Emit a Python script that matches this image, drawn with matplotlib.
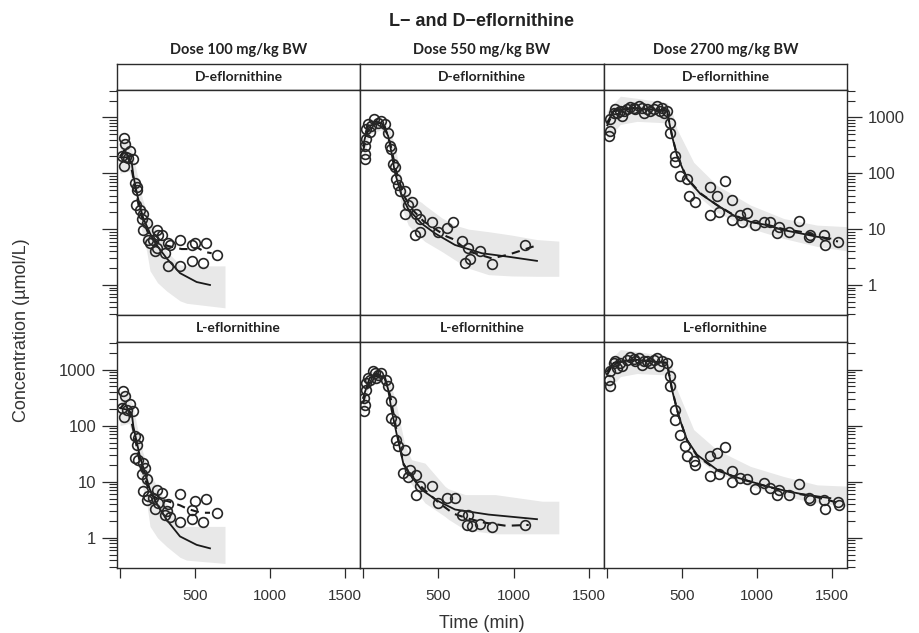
import matplotlib.pyplot as plt
from matplotlib.ticker import FixedLocator, LogLocator, NullFormatter

DOSES = ["Dose 100 mg/kg BW", "Dose 550 mg/kg BW", "Dose 2700 mg/kg BW"]
FORMS = ["D-eflornithine", "L-eflornithine"]
Y_TICKS = [1, 10, 100, 1000]
X_TICKS = [0, 500, 1000, 1500]
X_TICK_LABELS = ["", "500", "1000", "1500"]

# ---- D-eflornithine, 100 mg/kg ----
D100_OBS_T = [27, 33, 67, 11, 40, 89, 27, 56, 100, 111, 116, 107, 133, 156, 144, 178, 156, 244, 256,
              278, 189, 222, 200, 244, 233, 300, 322, 333, 400, 478, 500, 573, 649, 478, 551, 322, 400]
D100_OBS_C = [420, 333, 253, 201, 193, 180, 134, 190, 67, 57, 51, 27, 22, 19, 15.5, 13, 9.6, 9.6, 7.8,
              7.9, 6.4, 6.4, 5.6, 4.5, 4.0, 3.7, 5.6, 5.2, 6.4, 5.2, 5.6, 5.6, 3.5, 2.7, 2.5, 2.2, 2.15]
D100_PRED_T = [0, 44, 78, 89, 107, 129, 156, 200, 244, 311, 400, 511, 600]
D100_PRED_C = [193, 193, 157, 91, 52, 28, 15.5, 8.4, 5.2, 3.0, 1.63, 1.13, 1.0]
D100_MED_T = [0, 30, 60, 100, 130, 160, 200, 250, 320, 411, 456, 520, 567, 611]
D100_MED_C = [200, 260, 200, 60, 22, 13, 7, 5.8, 5, 4.4, 4.4, 4.6, 3.9, 3.7]
D100_BAND_T = [0, 60, 90, 120, 150, 178, 200, 250, 311, 400, 444, 700]
D100_BAND_LO = [100, 110, 60, 20, 8, 4, 1.8, 1.1, 0.78, 0.52, 0.47, 0.39]
D100_BAND_HI = [420, 380, 200, 80, 35, 20, 15, 9, 4, 2.3, 2.2, 2.2]

# ---- L-eflornithine, 100 mg/kg ----
L100_OBS_T = [22, 33, 67, 11, 44, 89, 27, 100, 122, 111, 100, 122, 156, 167, 144, 178, 156, 189, 178,
              222, 244, 278, 256, 233, 322, 311, 300, 333, 400, 500, 573, 649, 478, 478, 400, 551]
L100_OBS_C = [410, 334, 247, 207, 193, 180, 143, 65, 60, 46, 26.5, 24.7, 21.5, 17.5, 13.9, 11.3, 6.9,
              5.5, 4.8, 5.1, 7.2, 6.3, 4.2, 3.25, 4.0, 2.95, 2.6, 2.4, 6.1, 4.5, 4.9, 2.75, 3.1, 2.2,
              1.9, 1.9]
L100_PRED_T = [0, 44, 78, 89, 111, 133, 167, 200, 256, 311, 400, 511, 600]
L100_PRED_C = [207, 193, 168, 97, 52, 28, 14.3, 7.2, 3.6, 2.1, 1.06, 0.75, 0.65]
L100_MED_T = [0, 30, 60, 100, 130, 160, 200, 250, 320, 400, 449, 500, 544, 600]
L100_MED_C = [200, 250, 190, 60, 24, 13, 6, 5, 4.5, 3.8, 3.3, 3.0, 2.8, 2.8]
L100_BAND_T = [0, 60, 90, 120, 150, 178, 200, 250, 311, 400, 444, 700]
L100_BAND_LO = [100, 110, 60, 20, 8, 4.2, 1.6, 1.0, 0.7, 0.45, 0.4, 0.35]
L100_BAND_HI = [420, 380, 200, 80, 35, 20, 14, 8, 4, 1.6, 1.6, 1.6]

# ---- D-eflornithine, 550 mg/kg ----
D550_OBS_T = [11, 11, 11, 22, 22, 33, 44, 55, 73, 100, 122, 144, 167, 178, 189, 200, 211, 222, 233,
              244, 278, 322, 300, 278, 355, 344, 378, 378, 455, 500, 555, 600, 655, 700, 778, 711,
              678, 855, 1078]
D550_OBS_C = [180, 221, 312, 407, 615, 754, 556, 703, 950, 805, 863, 754, 535, 312, 270, 147, 128, 80,
              61, 49, 49, 30, 26.7, 19, 19, 7.8, 9.0, 15.5, 13.2, 9.0, 10.3, 13.2, 6.1, 4.5, 4.0,
              2.9, 2.5, 2.4, 5.2]
D550_PRED_T = [0, 33, 122, 167, 189, 211, 256, 300, 389, 478, 611, 789, 967, 1155]
D550_PRED_C = [312, 703, 805, 467, 235, 105, 40, 23, 12.6, 8.4, 5.2, 3.7, 3.2, 2.7]
D550_MED_T = [0, 30, 80, 140, 180, 220, 270, 330, 400, 480, 555, 600, 700, 855, 967, 1033, 1122, 1162]
D550_MED_C = [250, 550, 850, 750, 350, 110, 40, 22, 14, 10, 7.4, 6.6, 4.0, 3.0, 3.5, 4.0, 4.8, 5.2]
D550_BAND_T = [0, 40, 120, 180, 220, 256, 300, 333, 389, 411, 522, 611, 700, 833, 989, 1155, 1300]
D550_BAND_LO = [150, 500, 600, 300, 100, 25, 11.8, 9.5, 6.8, 6.0, 4.0, 2.8, 2.0, 1.53, 1.45, 1.43, 1.43]
D550_BAND_HI = [400, 900, 1000, 600, 250, 70, 45, 37, 30, 26.7, 16, 11.8, 10, 9.0, 7.8, 6.5, 6.1]

# ---- L-eflornithine, 550 mg/kg ----
L550_OBS_T = [7, 11, 7, 22, 22, 44, 67, 89, 122, 155, 167, 189, 189, 211, 222, 233, 278, 267, 300,
              355, 311, 355, 378, 455, 500, 555, 611, 655, 700, 689, 722, 778, 855, 1078, 33, 100, 78]
L550_OBS_C = [180, 237, 312, 439, 578, 662, 933, 710, 871, 662, 504, 272, 137, 119, 56, 43, 37, 14.3,
              12.4, 13.3, 16.4, 5.9, 8.3, 8.5, 4.2, 5.1, 5.1, 2.6, 2.6, 1.7, 1.64, 1.75, 1.55, 1.7,
              710, 800, 871]
L550_PRED_T = [0, 44, 78, 144, 167, 189, 222, 267, 322, 389, 500, 611, 833, 1155]
L550_PRED_C = [312, 710, 760, 760, 439, 193, 74, 21.5, 12.4, 7.2, 4.5, 3.2, 2.6, 2.15]
L550_MED_T = [0, 30, 80, 140, 180, 220, 270, 330, 400, 500, 600, 700, 800, 950, 1100]
L550_MED_C = [250, 500, 850, 750, 350, 90, 20, 12, 7.5, 4.3, 2.7, 2.2, 1.88, 1.64, 1.7]
L550_BAND_T = [0, 40, 120, 180, 220, 278, 322, 411, 544, 566, 678, 878, 1189, 1300]
L550_BAND_LO = [150, 500, 600, 300, 100, 12.4, 9, 4.2, 2.4, 2.15, 1.39, 1.18, 1.18, 1.18]
L550_BAND_HI = [400, 900, 1000, 600, 250, 45, 24.7, 21.5, 8.3, 7.5, 5.9, 5.9, 4.5, 4.5]

# ---- D-eflornithine, 2700 mg/kg ----
D2700_OBS_T = [11, 18, 22, 56, 67, 100, 111, 156, 189, 211, 244, 233, 289, 333, 356, 378, 400, 422,
               422, 456, 456, 489, 533, 544, 589, 689, 733, 789, 833, 689, 744, 833, 889, 933, 900,
               989, 1044, 1089, 1144, 1133, 1211, 1278, 1344, 1356, 1444, 1456, 1538, 44, 89, 133,
               178, 267, 311, 367]
D2700_OBS_C = [468, 574, 925, 1392, 1216, 1061, 1300, 1553, 1392, 1596, 1216, 1490, 1300, 1596, 1300,
               1216, 1300, 807, 537, 206, 157, 91, 80, 40, 31, 57, 40, 74, 33, 18.2, 20, 14.5, 17.7,
               19.8, 13.5, 11.8, 13.5, 13.5, 11, 8.7, 9.0, 13.9, 7.3, 7.8, 7.8, 5.3, 5.8, 1216,
               1300, 1430, 1490, 1392, 1430, 1490]
D2700_PRED_T = [0, 44, 178, 400, 433, 467, 533, 622, 733, 844, 956, 1067, 1178, 1289, 1400, 1489]
D2700_PRED_C = [807, 1300, 1490, 1300, 468, 206, 80, 43, 27, 17.7, 13.5, 11.8, 9.6, 8.4, 7.3, 6.8]
D2700_MED_T = [0, 44, 178, 400, 433, 467, 533, 622, 733, 844, 956, 1067, 1178, 1289, 1400, 1489, 1540]
D2700_MED_C = [700, 1300, 1450, 1300, 480, 210, 82, 44, 27, 18, 13.5, 12, 10, 9, 7.6, 6.5, 6]
D2700_BAND_T = [0, 89, 200, 400, 440, 467, 578, 733, 956, 1178, 1400, 1622]
D2700_BAND_LO = [400, 750, 850, 800, 400, 180, 46, 20, 10.3, 6.8, 4.9, 4.0]
D2700_BAND_HI = [1300, 2400, 2200, 1829, 1100, 615, 157, 61, 27, 15.5, 11.8, 11]

# ---- L-eflornithine, 2700 mg/kg ----
L2700_OBS_T = [11, 18, 22, 56, 67, 100, 156, 189, 211, 233, 244, 289, 333, 344, 367, 400, 422, 422,
               456, 456, 489, 522, 533, 578, 589, 689, 733, 789, 689, 744, 833, 833, 889, 933, 989,
               1044, 1089, 1144, 1133, 1211, 1278, 1344, 1356, 1444, 1456, 1538, 1544, 44, 89, 133,
               178, 267, 311]
L2700_OBS_C = [662, 504, 933, 1409, 1071, 1148, 1683, 1409, 1616, 1228, 1409, 1315, 1616, 1148, 1409,
               1315, 760, 504, 193, 128, 69, 43, 28.3, 23, 20, 28.3, 32.5, 42, 12.8, 13.9, 15.3, 10.1,
               11.6, 11.2, 7.4, 9.5, 7.7, 7.2, 5.9, 5.9, 9.2, 5.1, 4.8, 4.8, 3.25, 4.3, 3.9, 1315,
               1315, 1510, 1550, 1409, 1510]
L2700_PRED_T = [0, 44, 178, 400, 433, 478, 533, 600, 733, 844, 956, 1067, 1178, 1289, 1400, 1489]
L2700_PRED_C = [933, 1315, 1510, 1315, 439, 147, 56, 30.3, 16.4, 12.4, 10.1, 8.3, 7.0, 6.1, 5.5, 5.1]
L2700_MED_T = [0, 44, 178, 400, 433, 478, 533, 600, 733, 844, 956, 1067, 1178, 1289, 1400, 1489, 1540]
L2700_MED_C = [800, 1320, 1500, 1320, 450, 150, 55, 29, 16, 12.5, 10, 8.2, 7.0, 6.0, 5.3, 4.6, 4.2]
L2700_BAND_T = [0, 89, 200, 400, 440, 467, 578, 733, 956, 1178, 1400, 1622]
L2700_BAND_LO = [400, 750, 850, 800, 350, 147, 28.3, 14.3, 8.3, 5.5, 4.2, 3.6]
L2700_BAND_HI = [1300, 2275, 2100, 1729, 1000, 439, 85, 37, 18.8, 12.4, 8.8, 8.3]

PANELS = [
    [(D100_OBS_T, D100_OBS_C, D100_PRED_T, D100_PRED_C, D100_MED_T, D100_MED_C,
      D100_BAND_T, D100_BAND_LO, D100_BAND_HI),
     (D550_OBS_T, D550_OBS_C, D550_PRED_T, D550_PRED_C, D550_MED_T, D550_MED_C,
      D550_BAND_T, D550_BAND_LO, D550_BAND_HI),
     (D2700_OBS_T, D2700_OBS_C, D2700_PRED_T, D2700_PRED_C, D2700_MED_T, D2700_MED_C,
      D2700_BAND_T, D2700_BAND_LO, D2700_BAND_HI)],
    [(L100_OBS_T, L100_OBS_C, L100_PRED_T, L100_PRED_C, L100_MED_T, L100_MED_C,
      L100_BAND_T, L100_BAND_LO, L100_BAND_HI),
     (L550_OBS_T, L550_OBS_C, L550_PRED_T, L550_PRED_C, L550_MED_T, L550_MED_C,
      L550_BAND_T, L550_BAND_LO, L550_BAND_HI),
     (L2700_OBS_T, L2700_OBS_C, L2700_PRED_T, L2700_PRED_C, L2700_MED_T, L2700_MED_C,
      L2700_BAND_T, L2700_BAND_LO, L2700_BAND_HI)],
]

W, H = 920, 633
SANS = ["Liberation Sans", "DejaVu Sans"]
STRIP_FONT = ["Lato", "DejaVu Sans"]
EDGE = "#2b2b2b"


def box(x0, y0, x1, y1):
    # pixel box (top-left origin) -> figure fraction
    return [x0 / W, 1 - y1 / H, (x1 - x0) / W, (y1 - y0) / H]


col_x = [117, 360, 604, 847]
row_y = [(90, 315), (342, 568)]
strip_y = [(64, 90), (315, 342)]

fig = plt.figure(figsize=(W / 100, H / 100), dpi=100)

fig.text(482 / W, 1 - 21 / H, "L\u2212 and D\u2212eflornithine", ha="center", va="center",
         fontsize=13, fontweight="bold", family=SANS, color="#222222")

for c in range(3):
    xc = (col_x[c] + col_x[c + 1]) / 2
    fig.text(xc / W, 1 - 50 / H, DOSES[c], ha="center", va="center", fontsize=10.5,
             fontweight="bold", family=STRIP_FONT, color="#222222")

for r in range(2):
    for c in range(3):
        obs_t, obs_c, pred_t, pred_c, med_t, med_c, band_t, band_lo, band_hi = PANELS[r][c]

        sax = fig.add_axes(box(col_x[c], strip_y[r][0], col_x[c + 1], strip_y[r][1]))
        sax.set_xticks([])
        sax.set_yticks([])
        for sp in sax.spines.values():
            sp.set_color(EDGE)
            sp.set_linewidth(1.0)
        sax.text(0.5, 0.5, FORMS[r], ha="center", va="center", fontsize=10, fontweight="bold",
                 family=STRIP_FONT, color="#222222", transform=sax.transAxes)

        ax = fig.add_axes(box(col_x[c], row_y[r][0], col_x[c + 1], row_y[r][1]))
        ax.set_yscale("log")
        ax.fill_between(band_t, band_lo, band_hi, color="#e8e8e8", lw=0, zorder=1)
        ax.plot(pred_t, pred_c, color="#1a1a1a", lw=1.3, zorder=3)
        ax.plot(med_t, med_c, color="#1a1a1a", lw=1.5, ls=(0, (4, 3)), zorder=3)
        ax.plot(obs_t, obs_c, "o", mfc="none", mec="#262626", ms=7, mew=1.2, zorder=4)

        ax.set_xlim(-20, 1600)
        ax.set_ylim(0.29, 3100)
        for sp in ax.spines.values():
            sp.set_color(EDGE)
            sp.set_linewidth(1.0)

        ax.yaxis.set_major_locator(FixedLocator(Y_TICKS))
        ax.yaxis.set_minor_locator(LogLocator(base=10, subs=range(2, 10)))
        ax.yaxis.set_minor_formatter(NullFormatter())
        ax.set_yticklabels([str(v) for v in Y_TICKS])
        ax.tick_params(axis="y", which="major", length=11, width=0.9, color=EDGE,
                       labelsize=12, labelcolor="#333333", pad=4)
        ax.tick_params(axis="y", which="minor", length=5.5, width=0.8, color=EDGE)
        ax.tick_params(axis="y", which="both", left=(c == 0), right=(c == 2),
                       labelleft=(c == 0 and r == 1), labelright=(c == 2 and r == 0))
        for lab in ax.get_yticklabels():
            lab.set_family(SANS)

        if r == 1:
            ax.set_xticks(X_TICKS)
            ax.set_xticklabels(X_TICK_LABELS)
            ax.tick_params(axis="x", length=7, width=0.9, color=EDGE, labelsize=11,
                           labelcolor="#333333", pad=8)
            for lab in ax.get_xticklabels():
                lab.set_family(SANS)
        else:
            ax.set_xticks([])

fig.text(482 / W, 1 - 623 / H, "Time (min)", ha="center", va="center", fontsize=13,
         family=SANS, color="#333333")
fig.text(22 / W, 1 - 330 / H, "Concentration (\u00b5mol/L)", ha="center", va="center",
         fontsize=13, family=SANS, color="#333333", rotation=90)

fig.savefig("out.png", dpi=100)
